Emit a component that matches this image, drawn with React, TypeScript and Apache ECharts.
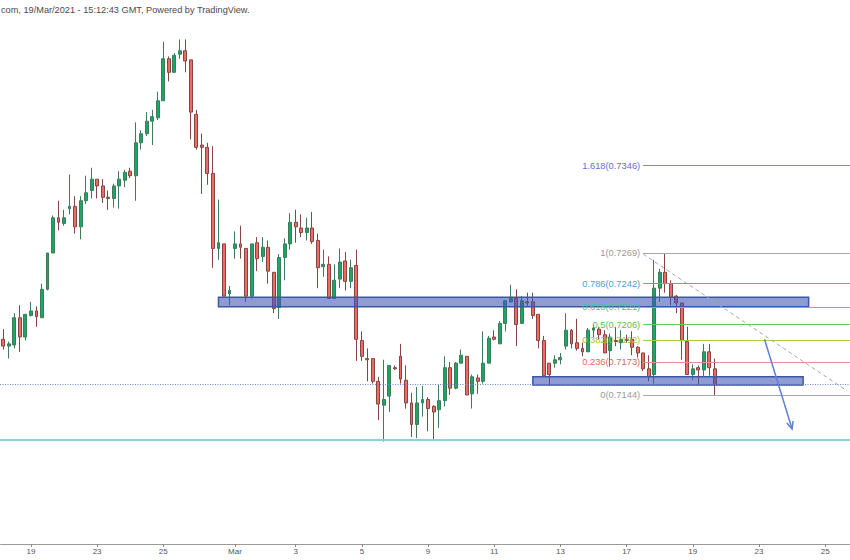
import React, { useEffect, useRef } from 'react';
import * as echarts from 'echarts';

// 4H candles (NZD/USD-like)
const opens = [
  0.7193, 0.7187, 0.7188, 0.7212, 0.7195, 0.7214, 0.7218, 0.7212, 0.7237, 0.7269,
  0.7300, 0.7295, 0.7308, 0.7310, 0.7292, 0.7315, 0.7324, 0.7334, 0.7328, 0.7318,
  0.7317, 0.7328, 0.7333, 0.7341, 0.7337, 0.7366, 0.7374, 0.7385, 0.7388, 0.7403,
  0.7440, 0.7428, 0.7444, 0.7447, 0.7439, 0.7391, 0.7364, 0.7362, 0.7339, 0.7273,
  0.7277, 0.7233, 0.7273, 0.7277, 0.7273, 0.7231, 0.7278, 0.7266, 0.7274, 0.7252,
  0.7221, 0.7265, 0.7277, 0.7296, 0.7291, 0.7287, 0.7291, 0.7280, 0.7257, 0.7259,
  0.7229, 0.7246, 0.7262, 0.7244, 0.7258, 0.7192, 0.7176, 0.7176, 0.7156, 0.7135,
  0.7143, 0.7168, 0.7178, 0.7157, 0.7137, 0.7118, 0.7137, 0.7140, 0.7134, 0.7131,
  0.7139, 0.7168, 0.7150, 0.7172, 0.7178, 0.7145, 0.7159, 0.7156, 0.7172, 0.7195,
  0.7189, 0.7207, 0.7226, 0.7229, 0.7207, 0.7226, 0.7226, 0.7215, 0.7192, 0.7172,
  0.7172, 0.7175, 0.7187, 0.7201, 0.7190, 0.7185, 0.7182, 0.7201, 0.7202, 0.7197,
  0.7183, 0.7192, 0.7190, 0.7193, 0.7193, 0.7186, 0.7181, 0.7167, 0.7162, 0.7238,
  0.7252, 0.7242, 0.7231, 0.7225, 0.7191, 0.7162, 0.7168, 0.7166, 0.7182, 0.7167,
];
const closes = [
  0.7187, 0.7189, 0.7212, 0.7195, 0.7215, 0.7218, 0.7213, 0.7237, 0.7269, 0.7300,
  0.7296, 0.7300, 0.7310, 0.7292, 0.7315, 0.7322, 0.7334, 0.7328, 0.7318, 0.7317,
  0.7328, 0.7334, 0.7340, 0.7337, 0.7366, 0.7374, 0.7385, 0.7389, 0.7403, 0.7440,
  0.7428, 0.7443, 0.7447, 0.7438, 0.7393, 0.7362, 0.7362, 0.7339, 0.7273, 0.7278,
  0.7231, 0.7236, 0.7277, 0.7274, 0.7231, 0.7277, 0.7264, 0.7274, 0.7253, 0.7220,
  0.7265, 0.7277, 0.7296, 0.7292, 0.7287, 0.7291, 0.7279, 0.7256, 0.7259, 0.7229,
  0.7245, 0.7261, 0.7244, 0.7256, 0.7193, 0.7178, 0.7175, 0.7156, 0.7136, 0.7140,
  0.7170, 0.7167, 0.7158, 0.7137, 0.7118, 0.7137, 0.7140, 0.7132, 0.7129, 0.7139,
  0.7168, 0.7150, 0.7172, 0.7179, 0.7144, 0.7160, 0.7156, 0.7172, 0.7194, 0.7193,
  0.7207, 0.7227, 0.7230, 0.7206, 0.7227, 0.7225, 0.7214, 0.7192, 0.7161, 0.7162,
  0.7175, 0.7177, 0.7201, 0.7189, 0.7185, 0.7182, 0.7201, 0.7203, 0.7197, 0.7181,
  0.7195, 0.7191, 0.7193, 0.7192, 0.7186, 0.7181, 0.7167, 0.7160, 0.7238, 0.7252,
  0.7242, 0.7230, 0.7225, 0.7192, 0.7162, 0.7167, 0.7166, 0.7182, 0.7168, 0.7153,
];
const lows = [
  0.7184, 0.7176, 0.7185, 0.7182, 0.7192, 0.7213, 0.7204, 0.7212, 0.7236, 0.7269,
  0.7289, 0.7293, 0.7303, 0.7286, 0.7281, 0.7312, 0.7317, 0.7317, 0.7313, 0.7307,
  0.7309, 0.7308, 0.7327, 0.7335, 0.7315, 0.7360, 0.7372, 0.7364, 0.7386, 0.7403,
  0.7420, 0.7428, 0.7440, 0.7428, 0.7369, 0.7360, 0.7321, 0.7329, 0.7256, 0.7263,
  0.7231, 0.7223, 0.7264, 0.7264, 0.7226, 0.7229, 0.7253, 0.7261, 0.7242, 0.7216,
  0.7211, 0.7245, 0.7272, 0.7278, 0.7283, 0.7280, 0.7277, 0.7238, 0.7248, 0.7229,
  0.7229, 0.7238, 0.7236, 0.7238, 0.7174, 0.7174, 0.7156, 0.7154, 0.7122, 0.7103,
  0.7129, 0.7166, 0.7154, 0.7132, 0.7107, 0.7106, 0.7125, 0.7112, 0.7104, 0.7115,
  0.7134, 0.7144, 0.7149, 0.7172, 0.7144, 0.7132, 0.7145, 0.7154, 0.7172, 0.7192,
  0.7189, 0.7200, 0.7225, 0.7187, 0.7207, 0.7222, 0.7211, 0.7185, 0.7161, 0.7152,
  0.7168, 0.7171, 0.7184, 0.7185, 0.7183, 0.7178, 0.7182, 0.7195, 0.7193, 0.7181,
  0.7169, 0.7187, 0.7184, 0.7190, 0.7179, 0.7177, 0.7165, 0.7156, 0.7154, 0.7226,
  0.7234, 0.7223, 0.7216, 0.7175, 0.7162, 0.7157, 0.7153, 0.7160, 0.7161, 0.7144,
];
const highs = [
  0.7202, 0.7191, 0.7216, 0.7223, 0.7215, 0.7226, 0.7222, 0.7242, 0.7269, 0.7302,
  0.7315, 0.7307, 0.7338, 0.7319, 0.7319, 0.7337, 0.7344, 0.7334, 0.7334, 0.7324,
  0.7330, 0.7341, 0.7342, 0.7344, 0.7384, 0.7377, 0.7393, 0.7395, 0.7411, 0.7455,
  0.7442, 0.7445, 0.7457, 0.7457, 0.7439, 0.7395, 0.7374, 0.7366, 0.7363, 0.7316,
  0.7277, 0.7240, 0.7288, 0.7293, 0.7273, 0.7277, 0.7283, 0.7283, 0.7280, 0.7252,
  0.7268, 0.7282, 0.7304, 0.7307, 0.7303, 0.7300, 0.7305, 0.7286, 0.7272, 0.7266,
  0.7259, 0.7273, 0.7270, 0.7263, 0.7272, 0.7200, 0.7185, 0.7176, 0.7160, 0.7175,
  0.7170, 0.7170, 0.7189, 0.7170, 0.7146, 0.7151, 0.7152, 0.7142, 0.7135, 0.7153,
  0.7178, 0.7173, 0.7173, 0.7184, 0.7178, 0.7162, 0.7162, 0.7200, 0.7196, 0.7201,
  0.7209, 0.7227, 0.7241, 0.7237, 0.7231, 0.7234, 0.7234, 0.7215, 0.7196, 0.7172,
  0.7179, 0.7181, 0.7216, 0.7202, 0.7211, 0.7190, 0.7203, 0.7206, 0.7204, 0.7201,
  0.7198, 0.7204, 0.7201, 0.7197, 0.7200, 0.7187, 0.7181, 0.7179, 0.7263, 0.7255,
  0.7269, 0.7245, 0.7232, 0.7225, 0.7204, 0.7171, 0.7170, 0.7189, 0.7189, 0.7176,
];

// x axis: 4H slots (incl. empty future slots) and day labels
const slotCount = 154;
const tickIndices = [5, 17, 29, 42, 53, 65, 77, 89, 101, 113, 125, 137, 149];
const tickLabels = ['19', '23', '25', 'Mar', '3', '5', '9', '11', '13', '17', '19', '23', '25'];

// Fibonacci retracement
const fibLevels = ['1.618', '1', '0.786', '0.618', '0.5', '0.382', '0.236', '0'];
const fibPrices = [0.7346, 0.7269, 0.7242, 0.7221, 0.7206, 0.7192, 0.7173, 0.7144];
const fibColors = ['#8080e6', '#a8a8a8', '#5aa6da', '#4fcaa6', '#63c963', '#a6cf45', '#ea9090', '#a8a8a8'];
const fibLabelColors = ['#6a6ad8', '#9a9a9a', '#4a9fd8', '#45c49c', '#55c255', '#9ec63a', '#e06666', '#9a9a9a'];
const fibStartIndex = 116;

// trend line of the fib tool
const fibTrendStart = [116, 0.7268];
const fibTrendEnd = [153, 0.71475];

// zones [fromIndex, toIndex, topPrice, bottomPrice]
const zoneFrom = [39, 96];
const zoneTo = [146, 145];
const zoneTop = [0.7230, 0.7160];
const zoneBottom = [0.72217, 0.71528];

const currentPrice = 0.7153;
const supportPrice = 0.7105;

const arrowFrom = [138, 0.7193];
const arrowTo = [143, 0.71141];

const yMin = 0.70128;
const yMax = 0.74917;

const headerText = 'com, 19/Mar/2021 - 15:12:43 GMT, Powered by TradingView.';

export default function App() {
  const ref = useRef<HTMLDivElement>(null);

  useEffect(() => {
    if (!ref.current) return;
    const chart = echarts.init(ref.current, null, { renderer: 'svg' });
    const categories = Array.from({ length: slotCount }, (_, i) => String(i));
    const candles = opens.map((o, i) => [o, closes[i], lows[i], highs[i]]);

    const fibLines = fibLevels.map((lv, k) => [
      {
        coord: [fibStartIndex, fibPrices[k]],
        lineStyle: { color: fibColors[k], width: 1, type: 'solid' },
        label: {
          show: true,
          position: 'start',
          distance: 3,
          formatter: `${lv}(${fibPrices[k].toFixed(4)})`,
          color: fibLabelColors[k],
          fontSize: 9.3,
          fontFamily: '"Liberation Sans", Arial, sans-serif',
        },
      },
      { coord: [slotCount - 1, fibPrices[k]], x: 852 },
    ]);

    const fullLine = (price: number, lineStyle: any) => [
      { coord: [0, price], x: 0, lineStyle, label: { show: false } },
      { coord: [slotCount - 1, price], x: 852 },
    ];

    const option: any = {
      animation: false,
      backgroundColor: '#ffffff',
      grid: { left: 0.6, right: -1.5, top: 0, bottom: 16, containLabel: false },
      xAxis: {
        type: 'category',
        data: categories,
        boundaryGap: true,
        axisLine: { show: true, lineStyle: { color: '#9a9a9a', width: 1 } },
        axisTick: {
          show: true,
          alignWithLabel: true,
          length: 3,
          interval: (idx: number) => tickIndices.includes(idx),
          lineStyle: { color: '#888' },
        },
        axisLabel: {
          show: true,
          interval: (idx: number) => tickIndices.includes(idx),
          formatter: (_v: string, idx: number) => {
            const k = tickIndices.indexOf(idx);
            return k >= 0 ? tickLabels[k] : '';
          },
          fontSize: 8,
          color: '#555',
          margin: 3,
          fontFamily: '"Liberation Sans Narrow", "Liberation Sans", Arial, sans-serif',
        },
        splitLine: { show: false },
      },
      yAxis: {
        type: 'value',
        min: yMin,
        max: yMax,
        show: false,
        splitLine: { show: false },
      },
      graphic: [
        {
          type: 'text',
          left: 1,
          top: 5,
          style: {
            text: headerText,
            fontSize: 9.2,
            fill: '#4a4a4a',
            fontFamily: '"Liberation Sans", Arial, sans-serif',
          },
        },
      ],
      series: [
        {
          type: 'candlestick',
          data: candles,
          barWidth: 3.4,
          z: 2,
          itemStyle: {
            color: '#17a866',
            color0: '#ee6a62',
            borderColor: '#3f7a5d',
            borderColor0: '#874442',
            borderWidth: 1,
          },
          markLine: {
            silent: true,
            symbol: ['none', 'none'],
            z: 4,
            label: { show: false },
            emphasis: { disabled: true },
            data: [
              ...fibLines,
              [
                {
                  coord: fibTrendStart,
                  lineStyle: { color: '#a9a9a9', width: 1, type: [4, 3] },
                  label: { show: false },
                },
                { coord: fibTrendEnd },
              ],
              fullLine(currentPrice, { color: '#7483da', width: 1, type: [1, 1.5] }),
              fullLine(supportPrice, { color: '#86d2e3', width: 2, type: 'solid' }),
            ],
          },
        },
        {
          type: 'line',
          data: [],
          z: 3,
          silent: true,
          markArea: {
            silent: true,
            z: 3,
            itemStyle: {
              color: 'rgba(60, 85, 180, 0.58)',
              borderColor: '#3c56a8',
              borderWidth: 1.5,
            },
            label: { show: false },
            data: zoneFrom.map((f, k) => [
              { coord: [f, zoneTop[k]] },
              { coord: [zoneTo[k], zoneBottom[k]] },
            ]),
          },
        },
      ],
    };

    chart.setOption(option);

    const a = chart.convertToPixel({ gridIndex: 0 }, arrowFrom) as number[];
    const b = chart.convertToPixel({ gridIndex: 0 }, arrowTo) as number[];
    if (a && b) {
      const ang = Math.atan2(b[1] - a[1], b[0] - a[0]);
      const L = 8;
      const spread = 0.42;
      const h1 = [b[0] - L * Math.cos(ang - spread), b[1] - L * Math.sin(ang - spread)];
      const h2 = [b[0] - L * Math.cos(ang + spread), b[1] - L * Math.sin(ang + spread)];
      chart.setOption({
        graphic: [
          option.graphic[0],
          {
            type: 'line',
            z: 10,
            shape: { x1: a[0], y1: a[1], x2: b[0], y2: b[1] },
            style: { stroke: '#5f80d6', lineWidth: 1.5 },
          },
          {
            type: 'polyline',
            z: 10,
            shape: { points: [h1, b, h2] },
            style: { stroke: '#5f80d6', fill: 'none', lineWidth: 1.5 },
          },
        ],
      });
    }

    return () => chart.dispose();
  }, []);

  return (
    <div
      ref={ref}
      style={{ position: 'fixed', left: 0, top: 0, width: 850, height: 560, background: '#fff' }}
    />
  );
}
